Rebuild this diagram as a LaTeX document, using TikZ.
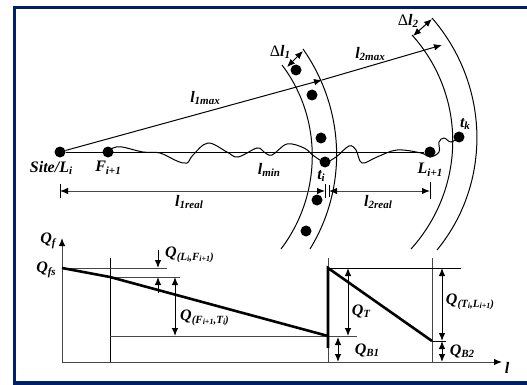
\documentclass[tikz,border=0pt]{standalone}
\usepackage{fontspec}
\setmainfont{Liberation Serif}
\usetikzlibrary{arrows.meta,decorations.markings}
\definecolor{framecol}{RGB}{2,32,100}
\definecolor{axiscol}{RGB}{70,70,70}
\tikzset{
  thinl/.style={line width=1pt,black},
  greyl/.style={line width=1pt,axiscol},
  thickl/.style={line width=2.6pt,black},
  tip/.style={-{Latex[length=8pt,width=6.5pt,black]}},
  dbl/.style={{Latex[length=8pt,width=6.5pt,black]}-{Latex[length=8pt,width=6.5pt,black]}},
  dot/.style={circle,fill=black,inner sep=0pt,minimum size=11pt},
  lab/.style={inner sep=0pt,font=\fontsize{16}{18}\selectfont\bfseries\itshape},
  arcl/.style={line width=1pt,black},
}
\newcommand{\sm}[1]{\raisebox{-2.5pt}{\fontsize{11}{12}\selectfont #1}}
\newcommand{\ssm}[1]{\raisebox{-1.2pt}{\fontsize{8}{9}\selectfont #1}}
\begin{document}
\begin{tikzpicture}[x=1pt,y=-1pt]
\useasboundingbox (0,0) rectangle (527,385);
\fill[framecol] (13,6) rectangle (527,9);
\fill[framecol] (13,6) rectangle (16,385);
\fill[framecol] (13,381) rectangle (527,385);
% top points
\node[dot] (site) at (60,152) {};
\node[dot] (f) at (108,152) {};
\node[dot] (ti) at (325,162) {};
\node[dot] (lnext) at (430,152) {};
\node[dot] (tk) at (459,137) {};
\node[dot] (d1) at (296,70) {};
\node[dot] (d2) at (312,95) {};
\node[dot] (d3) at (321,138) {};
\node[dot] (d4) at (317,200) {};
\node[dot] (d5) at (306,231) {};
% arcs
\draw[arcl] (282,65) .. controls (323,119) and (322,195) .. (281,249);
\draw[arcl] (303,49) .. controls (345,109) and (348,187) .. (310,249);
\draw[arcl] (412,35) .. controls (467,96) and (466,188) .. (411,249);
\draw[arcl] (432,18) .. controls (490,85) and (492,183) .. (437,250);
% straight lines
\coordinate (maxend) at (442,45);
\coordinate (maxmid) at (322,80);
\draw[thinl,tip] (site) -- (maxmid);
\draw[thinl,tip] (maxmid) -- (maxend);
\draw[thinl] (site) -- (lnext);
% wave
\draw[line width=1pt] plot[smooth,tension=0.6] coordinates {(108,152) (113,148) (122,147) (143,152) (160,153) (177,161) (187,163) (193,155) (208,143) (227,152) (238,157) (257,148) (264,152) (272,155) (287,144) (304,148) (314,156) (325,162) (336,157) (349,146) (356,150) (362,163) (377,157) (397,150) (421,153) (430,157) (439,152) (439,142) (444,138) (451,142) (459,137)};
% dimension lines
\coordinate (r0) at (60,191);
\coordinate (r1) at (325,191);
\coordinate (r1b) at (329,191);
\coordinate (r2) at (430,191);
\draw[greyl,dbl] (r0) -- (r1);
\draw[greyl,dbl] (r1b) -- (r2);
\draw[thinl] (60,184) -- (60,198);
\draw[thinl] (325,184) -- (325,198);
\draw[thinl] (329,185) -- (329,197);
\draw[thinl] (430,182) -- (430,199);
% delta arrows
\coordinate (da1) at (287,67);
\coordinate (da2) at (303,51);
\coordinate (db1) at (413,36);
\coordinate (db2) at (432,19);
\draw[thinl,dbl] (da1) -- (da2);
\draw[thinl,dbl] (db1) -- (db2);
% axes
\coordinate (orig) at (62,362);
\coordinate (ytop) at (62,238);
\coordinate (xend) at (502,362);
\draw[greyl,tip] (orig) -- (ytop);
\draw[greyl,tip] (orig) -- (xend);
\draw[thinl] (110,258) -- (110,362);
\draw[greyl] (328,258) -- (328,362);
\draw[greyl] (432,258) -- (432,362);
\draw[greyl] (62,268) -- (167,268);
\draw[greyl] (110,277) -- (180,277);
\draw[greyl] (110,336) -- (357,336);
\draw[thinl] (328,268) -- (461,268);
\draw[thinl] (432,341) -- (446,341);
% thick curve
\draw[thickl] (62,268) -- (110,277) -- (328,336);
\draw[thickl] (328,348) -- (328,268) -- (432,341);
% q arrows
\draw[thinl,tip] (158,250) -- (158,268);
\draw[thinl,tip] (158,293) -- (158,277);
\draw[thinl,dbl] (175,277) -- (175,336);
\draw[thinl,dbl] (348,268) -- (348,336);
\draw[thinl,dbl] (338,337) -- (338,362);
\draw[thinl,dbl] (442,268) -- (442,341);
\draw[thinl,dbl] (442,341) -- (442,362);
% labels
\node[lab] (t1) at (51,168) {Site/L\sm{i}};
\node[lab] (t2) at (108,168) {F\sm{i+1}};
\node[lab] (t3) at (269,170) {l\sm{min}};
\node[lab] (t4) at (321,176) {t\sm{i}};
\node[lab] (t5) at (430,170) {L\sm{i+1}};
\node[lab] (t6) at (465,124) {t\sm{k}};
\node[lab] (t7) at (280,52) {{\upshape\mdseries Δ}l\sm{1}};
\node[lab] (t8) at (408,21) {{\upshape\mdseries Δ}l\sm{2}};
\node[lab] (t9) at (205,98) {l\sm{1max}};
\node[lab] (t10) at (370,54) {l\sm{2max}};
\node[lab] (t11) at (189,202) {l\sm{1real}};
\node[lab] (t12) at (378,202) {l\sm{2real}};
\node[lab] (t13) at (48,241) {Q\sm{f}};
\node[lab] (t14) at (46,270) {Q\sm{fs}};
\node[lab,anchor=west] (t15) at (165,255) {Q\sm{(L\ssm{i},F\ssm{i+1})}};
\node[lab,anchor=west] (t16) at (180,318) {Q\sm{(F\ssm{i+1},T\ssm{i})}};
\node[lab] (t17) at (361,311) {Q\sm{T}};
\node[lab] (t18) at (367,350) {Q\sm{B1}};
\node[lab] (t19) at (470,302) {Q\sm{(T\ssm{i},L\ssm{i+1})}};
\node[lab] (t20) at (462,351) {Q\sm{B2}};
\node[lab] (t21) at (507,368) {l};
\end{tikzpicture}
\end{document}
